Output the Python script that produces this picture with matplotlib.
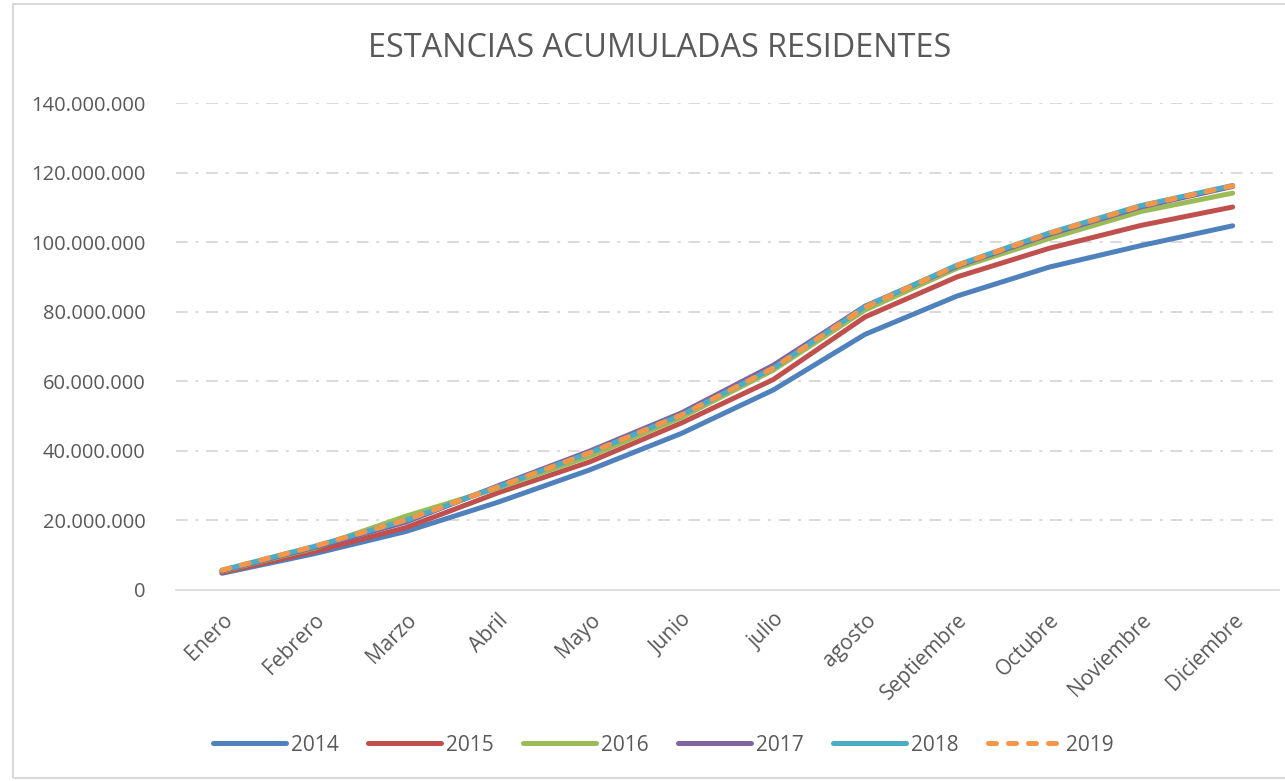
import matplotlib.pyplot as plt
from matplotlib.ticker import FuncFormatter
from matplotlib.patches import Rectangle
import numpy as np

plt.rcParams['font.family'] = ['Open Sans', 'DejaVu Sans']

# data (millions of stays)
months = ['Enero', 'Febrero', 'Marzo', 'Abril', 'Mayo', 'Junio', 'julio',
          'agosto', 'Septiembre', 'Octubre', 'Noviembre', 'Diciembre']
years = ['2014', '2015', '2016', '2017', '2018', '2019']
v2014 = [4.8, 10.4, 16.8, 25.2, 34.5, 45.0, 57.5, 73.5, 84.5, 92.8, 99.0, 104.7]
v2015 = [5.0, 11.0, 17.9, 27.9, 36.8, 48.0, 60.5, 78.5, 90.0, 98.2, 104.8, 110.1]
v2016 = [5.4, 12.0, 21.2, 29.3, 38.4, 49.6, 63.2, 80.5, 92.5, 101.0, 108.8, 114.1]
v2017 = [5.5, 12.2, 19.5, 29.9, 39.9, 50.9, 64.6, 81.6, 93.1, 102.2, 110.1, 116.0]
v2018 = [5.7, 12.5, 20.0, 29.6, 39.4, 50.3, 63.8, 81.4, 93.4, 102.6, 110.5, 116.3]
v2019 = [5.7, 12.5, 20.1, 29.6, 39.4, 50.3, 63.8, 81.3, 93.3, 102.5, 110.4, 116.2]
series = [v2014, v2015, v2016, v2017, v2018, v2019]

colors = ['#4F81BD', '#C0504D', '#9BBB59', '#8064A2', '#4BACC6', '#F79646']
grey = '#595959'

fig = plt.figure(figsize=(12.85, 7.81), dpi=100)
ax = fig.add_axes([0.137, 0.2446, 0.858, 0.6235])

x = np.arange(len(months))
for i, vals in enumerate(series):
    y = np.array(vals) * 1e6
    if years[i] == '2019':
        ax.plot(x, y, color=colors[i], lw=3.6, linestyle=(0, (1.6, 2.4)),
                dash_capstyle='round', label=years[i], zorder=3 + i)
    else:
        ax.plot(x, y, color=colors[i], lw=3.6, solid_capstyle='round',
                label=years[i], zorder=3 + i)

ax.set_xlim(-0.5, len(months) - 0.5)
ax.set_ylim(0, 140e6)
ax.set_yticks(np.arange(0, 140e6 + 1, 20e6))
ax.yaxis.set_major_formatter(FuncFormatter(lambda v, p: f'{int(v):,}'.replace(',', '.')))
ax.set_xticks(x)
ax.set_xticklabels(months, rotation=45, ha='right', rotation_mode='anchor', fontsize=15)

ax.tick_params(axis='both', length=0, colors=grey)
ax.tick_params(axis='y', pad=22, labelsize=14.5)
ax.tick_params(axis='x', pad=14)

for s in ['top', 'right', 'left']:
    ax.spines[s].set_visible(False)
ax.spines['bottom'].set_color('#d9d9d9')
ax.spines['bottom'].set_linewidth(1.2)

for yv in np.arange(20e6, 140e6 + 1, 20e6):
    ax.axhline(yv, color='#d9d9d9', lw=1.4, linestyle=(0, (6, 4, 1.5, 4)), zorder=1)

fig.text(0.5136, 0.938, 'ESTANCIAS ACUMULADAS RESIDENTES', ha='center', va='center',
         fontsize=23.3, color=grey)

leg = fig.legend(loc='center', bbox_to_anchor=(0.516, 0.046), ncol=6, frameon=False,
                 fontsize=15, handlelength=3.5, handletextpad=0.25, columnspacing=1.4,
                 labelcolor=grey)

fig.add_artist(Rectangle((13 / 1285, 3 / 781), 1.0, 1 - 7 / 781, transform=fig.transFigure,
                         fill=False, edgecolor='#d9d9d9', lw=1.5))

fig.savefig('out.png', dpi=100)
